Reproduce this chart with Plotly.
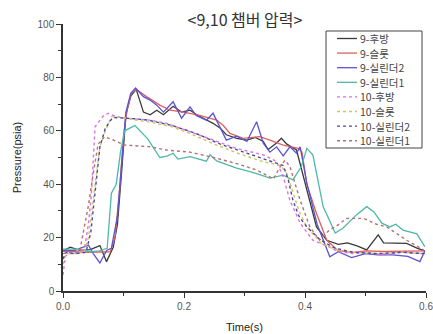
import plotly.graph_objects as go

TITLE = "<9,10 챔버 압력>"
X_TITLE = "Time(s)"
Y_TITLE = "Pressure(psia)"
X_TICKS = [0.0, 0.2, 0.4, 0.6]
Y_TICKS = [0, 20, 40, 60, 80, 100]

NAMES = ["9-후방", "9-슬롯", "9-실린더2", "9-실린더1",
         "10-후방", "10-슬롯", "10-실린더2", "10-실린더1"]
COLORS = ["#3a3a3a", "#e06060", "#5a55d0", "#4fb8a8",
          "#e070e0", "#c8c860", "#4a4a9a", "#b87070"]
DASHES = ["solid", "solid", "solid", "solid", "dot", "dot", "dot", "dot"]

# 9-후방
T_9_REAR = [0, 0.012, 0.028, 0.045, 0.061, 0.072, 0.083, 0.09, 0.097, 0.104, 0.112, 0.121,
            0.133, 0.144, 0.155, 0.166, 0.182, 0.196, 0.21, 0.221, 0.232, 0.248, 0.26, 0.27,
            0.287, 0.304, 0.318, 0.331, 0.339, 0.353, 0.361, 0.37, 0.386, 0.4, 0.419, 0.436,
            0.455, 0.47, 0.486, 0.502, 0.521, 0.53, 0.545, 0.568, 0.586, 0.598]
P_9_REAR = [15, 16.4, 15.2, 15.5, 17, 11, 16.4, 25, 45, 66, 73, 75.5,
            67, 66, 67.7, 66, 69.2, 67, 67.7, 66, 64.7, 62.8, 61, 58.5,
            57.2, 56.5, 57.5, 56, 53, 55.4, 57.2, 55, 52.8, 41, 24, 19,
            17.5, 18, 16.9, 15.4, 21, 18, 18, 17.8, 16, 15]

# 9-슬롯
T_9_SLOT = [0, 0.02, 0.04, 0.06, 0.078, 0.086, 0.094, 0.1, 0.106, 0.113, 0.121, 0.138,
            0.16, 0.177, 0.199, 0.226, 0.254, 0.265, 0.276, 0.298, 0.325, 0.342, 0.364,
            0.389, 0.395, 0.403, 0.419, 0.436, 0.455, 0.48, 0.5, 0.53, 0.56, 0.598]
P_9_SLOT = [15, 14.7, 14.5, 14.6, 14.7, 20, 39, 58, 68, 74, 75.5, 72.8,
            69.6, 67.7, 67, 65.8, 64, 62, 59, 57.2, 57.8, 56.5, 54.6,
            53.4, 52, 40, 29, 19, 15, 14.5, 15, 14.8, 15, 15]

# 9-실린더2
T_9_CYL2 = [0, 0.02, 0.042, 0.05, 0.061, 0.072, 0.08, 0.09, 0.097, 0.104, 0.112, 0.12,
            0.133, 0.144, 0.155, 0.166, 0.182, 0.196, 0.21, 0.22, 0.237, 0.248, 0.27,
            0.287, 0.304, 0.32, 0.331, 0.342, 0.353, 0.364, 0.375, 0.386, 0.392, 0.403,
            0.42, 0.441, 0.455, 0.477, 0.5, 0.52, 0.545, 0.57, 0.59, 0.598]
P_9_CYL2 = [15, 15.2, 17.2, 14, 10.5, 15.2, 16, 28, 48, 67, 74, 76,
            72.8, 71.5, 69.6, 67, 70.9, 64.7, 69, 65.7, 64, 66.6, 56.5,
            58, 56, 63.4, 55.4, 52, 54, 50.6, 54, 51.6, 54, 40.4,
            25, 12.8, 14.7, 12.5, 14, 13.5, 13.5, 13, 11, 15]

# 9-실린더1
T_9_CYL1 = [0, 0.02, 0.045, 0.06, 0.073, 0.08, 0.088, 0.095, 0.102, 0.119, 0.14, 0.16,
            0.172, 0.182, 0.19, 0.21, 0.237, 0.243, 0.254, 0.287, 0.309, 0.32, 0.342,
            0.364, 0.38, 0.394, 0.403, 0.413, 0.43, 0.45, 0.463, 0.485, 0.502, 0.514,
            0.527, 0.54, 0.55, 0.562, 0.585, 0.598]
P_9_CYL1 = [15.7, 15.7, 14.7, 15, 16, 36.6, 40, 52, 60, 62, 57, 50,
            50.5, 51.6, 49.4, 50.3, 48.6, 51, 48.7, 46, 44.7, 44, 42.3,
            43.4, 41.6, 46.6, 53.4, 51, 31.6, 21.7, 23.6, 28.5, 31.6, 29.6,
            25.4, 24, 25, 22.8, 21.4, 16.6]

# 10-후방
T_10_REAR = [0, 0.004, 0.01, 0.02, 0.03, 0.036, 0.042, 0.047, 0.053, 0.061, 0.068, 0.075,
             0.087, 0.105, 0.144, 0.171, 0.21, 0.254, 0.287, 0.331, 0.353, 0.364, 0.375,
             0.392, 0.413, 0.44, 0.455, 0.48, 0.5, 0.53, 0.56, 0.598]
P_10_REAR = [6, 13, 14, 14, 14.5, 16.6, 25, 36.6, 61.5, 64, 66, 66.5,
             65.4, 64.7, 64, 62.8, 59.7, 56, 53.4, 51, 48.5, 42.8, 34,
             25.4, 19, 16.5, 14.7, 14, 14.5, 13.5, 14.5, 14]

# 10-슬롯
T_10_SLOT = [0, 0.005, 0.02, 0.035, 0.042, 0.05, 0.061, 0.07, 0.08, 0.095, 0.12, 0.15,
             0.18, 0.21, 0.25, 0.29, 0.33, 0.36, 0.37, 0.38, 0.39, 0.403, 0.426, 0.45,
             0.48, 0.52, 0.56, 0.598]
P_10_SLOT = [10, 14, 14, 14.5, 20, 35, 54, 60, 65.3, 65, 64, 63,
             61.5, 59, 55, 51.5, 48.5, 47, 44, 37, 30, 24, 18, 15.5,
             14.5, 14, 14.5, 14]

# 10-실린더2
T_10_CYL2 = [0, 0.005, 0.02, 0.038, 0.046, 0.053, 0.061, 0.07, 0.082, 0.12, 0.14, 0.18,
             0.22, 0.26, 0.3, 0.34, 0.364, 0.372, 0.38, 0.39, 0.403, 0.426, 0.45, 0.48,
             0.52, 0.56, 0.598]
P_10_CYL2 = [12, 14.5, 14, 14.5, 22, 38, 54, 61, 65, 64.5, 64, 62,
             59, 55, 52, 49, 47, 42, 34, 28, 24, 19, 16, 14.5,
             14, 14.5, 14]

# 10-실린더1
T_10_CYL1 = [0, 0.01, 0.02, 0.028, 0.031, 0.042, 0.05, 0.058, 0.069, 0.089, 0.1, 0.144,
             0.171, 0.21, 0.254, 0.287, 0.32, 0.348, 0.359, 0.367, 0.375, 0.392, 0.408,
             0.424, 0.441, 0.45, 0.469, 0.497, 0.518, 0.535, 0.568, 0.596]
P_10_CYL1 = [14, 14.5, 14.5, 15, 19, 32, 44, 55, 57.8, 56, 54.7, 54,
             52.8, 52, 49.7, 47.7, 45.3, 42, 46.6, 49, 46.6, 34, 24,
             19, 23, 24, 27.2, 27.2, 25, 24, 19, 15.4]

SERIES_T = [T_9_REAR, T_9_SLOT, T_9_CYL2, T_9_CYL1,
            T_10_REAR, T_10_SLOT, T_10_CYL2, T_10_CYL1]
SERIES_P = [P_9_REAR, P_9_SLOT, P_9_CYL2, P_9_CYL1,
            P_10_REAR, P_10_SLOT, P_10_CYL2, P_10_CYL1]

FONT = "Liberation Sans, Arial, Noto Sans CJK KR, sans-serif"
KFONT = "Noto Sans CJK KR, Liberation Sans, sans-serif"

fig = go.Figure()
for name, t, p, c, d in zip(NAMES, SERIES_T, SERIES_P, COLORS, DASHES):
    fig.add_trace(go.Scatter(x=t, y=p, mode="lines", name=name,
                             line=dict(color=c, width=1.3 if d == "solid" else 1.4, dash=d),
                             showlegend=False))

W, H = 433, 334
L, R, T, B = 63, 7, 24, 43
pw, ph = W - L - R, H - T - B

def px2x(px):
    return (px - L) / pw

def py2y(py):
    return (H - B - py) / ph

LEG_TOP, LEG_STEP, LEG_FS = 38.5, 14.6, 10.5
shapes = [dict(type="rect", xref="paper", yref="paper",
               x0=px2x(326), x1=px2x(422), y0=py2y(148), y1=py2y(31),
               line=dict(color="#444", width=1), fillcolor="white", layer="above")]
annotations = []
for i, (name, c, d) in enumerate(zip(NAMES, COLORS, DASHES)):
    yc = LEG_TOP + LEG_STEP * i
    shapes.append(dict(type="line", xref="paper", yref="paper",
                       x0=px2x(337), x1=px2x(357), y0=py2y(yc), y1=py2y(yc),
                       line=dict(color=c, width=1.3 if d == "solid" else 1.4, dash=d),
                       layer="above"))
    annotations.append(dict(text=name, xref="paper", yref="paper",
                            x=px2x(358.5), y=py2y(yc), xanchor="left", yanchor="middle",
                            showarrow=False, borderpad=0,
                            font=dict(family=KFONT, size=LEG_FS, color="#444")))

fig.update_layout(
    width=W, height=H,
    margin=dict(l=L, r=R, t=T, b=B, autoexpand=False),
    paper_bgcolor="white", plot_bgcolor="white",
    title=dict(text=TITLE, x=245 / W, y=1 - 20 / H, xanchor="center", yanchor="middle",
               xref="container", yref="container",
               font=dict(family=KFONT, size=16, color="#333")),
    shapes=shapes, annotations=annotations,
    showlegend=False,
    xaxis=dict(range=[0, 0.6], tickmode="array", tickvals=X_TICKS,
               ticktext=[f"{v:.1f}" for v in X_TICKS], automargin=False,
               ticklabeloverflow="allow",
               showline=True, linecolor="#333", linewidth=1.5, mirror=False,
               ticks="outside", ticklen=5, tickwidth=1.2, tickcolor="#333",
               minor=dict(tickmode="array", tickvals=[0.1, 0.3, 0.5],
                          ticks="outside", ticklen=3, tickcolor="#333"),
               showgrid=False, zeroline=False,
               tickfont=dict(family=FONT, size=10, color="#555"),
               title=dict(text=X_TITLE, standoff=13, font=dict(family=FONT, size=11, color="#222"))),
    yaxis=dict(range=[0, 100], tickmode="array", tickvals=Y_TICKS, automargin=False,
               showline=True, linecolor="#333", linewidth=1.5, mirror=False,
               ticks="outside", ticklen=5, tickwidth=1.2, tickcolor="#333",
               minor=dict(tickmode="array", tickvals=[10, 30, 50, 70, 90],
                          ticks="outside", ticklen=3, tickcolor="#333"),
               showgrid=False, zeroline=False,
               tickfont=dict(family=FONT, size=10, color="#555"),
               title=dict(text=Y_TITLE, standoff=14, font=dict(family=FONT, size=11, color="#222"))),
)

fig.write_html("out.html")
